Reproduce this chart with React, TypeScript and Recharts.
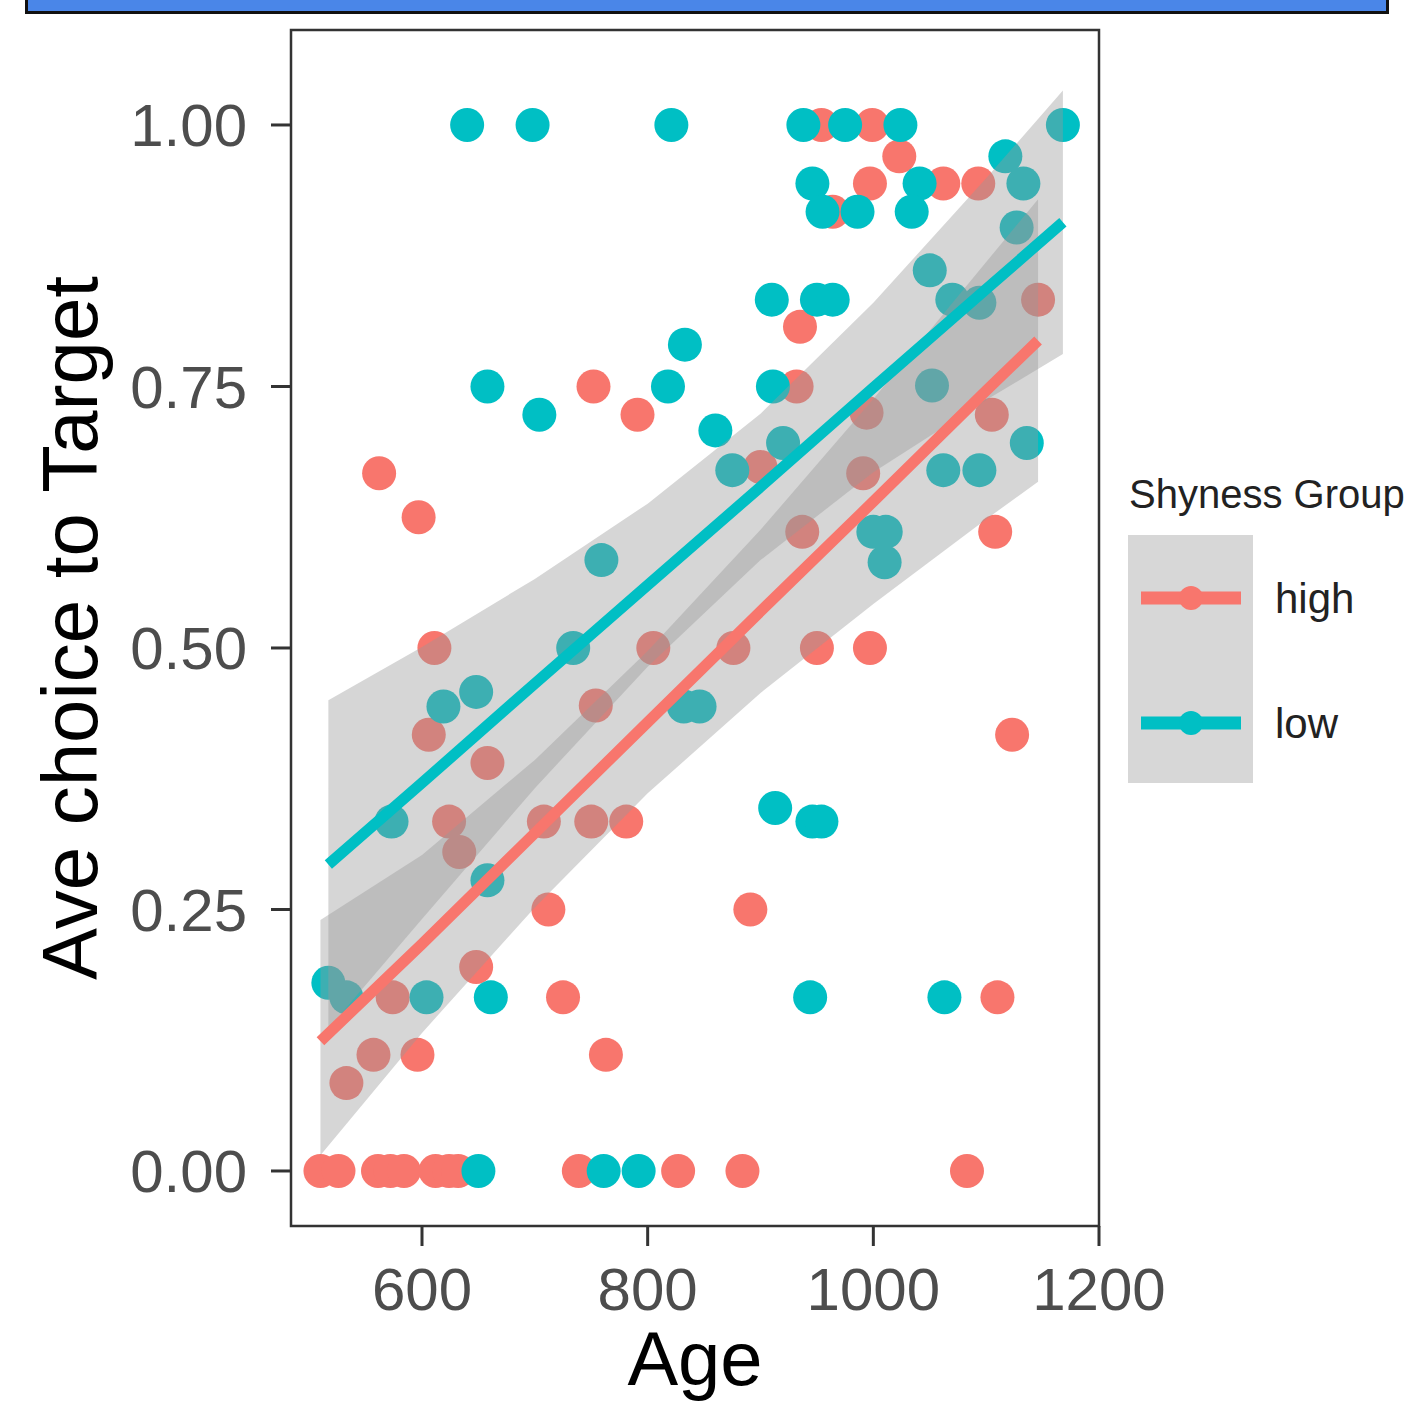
import React from 'react';
import { ComposedChart, Scatter, Line, Area, XAxis, YAxis, ReferenceArea } from 'recharts';

const RED = '#F8766D';
const TEAL = '#00BFC4';
const FONT = '"Liberation Sans", Arial, Helvetica, sans-serif';

// raw points (age in days, mean choice to target)
const highAge = [
  954, 999, 1023, 997, 1062, 1093, 964, 935, 932, 1146, 752, 791, 994, 1105, 562, 900, 991, 597,
  937, 1108, 611, 805, 876, 950, 997, 754, 606, 1123, 658, 624, 633, 708, 750, 781, 712, 891, 648,
  574, 725, 1110, 557, 596, 763, 533, 510, 526, 561, 572, 584, 612, 624, 632, 739, 827, 884, 1083,
];
const highChoice = [
  1.0, 1.0, 0.97, 0.944, 0.944, 0.944, 0.917, 0.807, 0.75, 0.833, 0.75, 0.723, 0.725, 0.723, 0.667,
  0.673, 0.667, 0.625, 0.611, 0.611, 0.5, 0.5, 0.5, 0.5, 0.5, 0.445, 0.417, 0.417, 0.39, 0.334,
  0.305, 0.334, 0.334, 0.334, 0.25, 0.25, 0.195, 0.166, 0.166, 0.166, 0.111, 0.111, 0.111, 0.084, 0,
  0, 0, 0, 0, 0, 0, 0, 0, 0, 0, 0,
];
const lowAge = [
  640, 698, 821, 938, 975, 1024, 1168, 1117, 946, 1041, 1133, 955, 986, 1034, 1127, 1050, 910, 950,
  964, 1070, 1094, 833, 658, 818, 911, 1052, 704, 860, 920, 1136, 875, 1062, 1094, 759, 1000, 1011,
  1010, 734, 648, 619, 832, 846, 913, 573, 946, 954, 658, 517, 533, 604, 661, 944, 1063, 650, 761,
  792,
];
const lowChoice = [
  1.0, 1.0, 1.0, 1.0, 1.0, 1.0, 1.0, 0.97, 0.944, 0.944, 0.944, 0.917, 0.917, 0.917, 0.902, 0.861,
  0.833, 0.833, 0.833, 0.833, 0.83, 0.79, 0.75, 0.75, 0.75, 0.751, 0.723, 0.708, 0.696, 0.696, 0.67,
  0.67, 0.67, 0.584, 0.611, 0.611, 0.582, 0.5, 0.458, 0.444, 0.444, 0.444, 0.347, 0.334, 0.334,
  0.334, 0.278, 0.18, 0.166, 0.166, 0.166, 0.166, 0.166, 0, 0, 0,
];

// fitted lines and their grey bands, read at a few ages
const highFitAge = [510, 600, 700, 800, 900, 1000, 1100, 1146];
const highFit = [0.124, 0.217, 0.323, 0.429, 0.535, 0.64, 0.746, 0.794];
const highLower = [0.015, 0.132, 0.252, 0.361, 0.457, 0.542, 0.623, 0.659];
const highUpper = [0.24, 0.302, 0.393, 0.497, 0.613, 0.738, 0.869, 0.929];

const lowFitAge = [517, 600, 700, 800, 900, 1000, 1100, 1168];
const lowFit = [0.293, 0.371, 0.466, 0.56, 0.654, 0.749, 0.843, 0.907];
const lowLower = [0.136, 0.241, 0.366, 0.482, 0.584, 0.668, 0.737, 0.781];
const lowUpper = [0.45, 0.501, 0.566, 0.638, 0.724, 0.83, 0.949, 1.033];

const xTicks = [600, 800, 1000, 1200];
const yTicks = [0, 0.25, 0.5, 0.75, 1];
const xDomain: [number, number] = [483.9, 1200];
const yDomain: [number, number] = [-0.0526, 1.0908];

const highPoints = highAge.map((age, i) => ({ age, choice: highChoice[i] }));
const lowPoints = lowAge.map((age, i) => ({ age, choice: lowChoice[i] }));
const highSmooth = highFitAge.map((age, i) => ({
  age,
  fit: highFit[i],
  band: [highLower[i], highUpper[i]],
}));
const lowSmooth = lowFitAge.map((age, i) => ({
  age,
  fit: lowFit[i],
  band: [lowLower[i], lowUpper[i]],
}));

const dot = (color: string) => (p: any) => <circle cx={p.cx} cy={p.cy} r={17} fill={color} />;

const XTitle = ({ viewBox }: any) => (
  <text
    x={viewBox.x + viewBox.width / 2}
    y={viewBox.y + 159}
    textAnchor="middle"
    fontSize={76}
    fontFamily={FONT}
    fill="#000"
  >
    Age
  </text>
);

const YTitle = ({ viewBox }: any) => {
  const cx = 97;
  const cy = viewBox.y + viewBox.height / 2;
  return (
    <text
      x={cx}
      y={cy}
      transform={`rotate(-90 ${cx} ${cy})`}
      textAnchor="middle"
      fontSize={78}
      fontFamily={FONT}
      fill="#000"
    >
      Ave choice to Target
    </text>
  );
};

const ShynessLegend = () => (
  <svg
    width={304}
    height={340}
    style={{ position: 'absolute', left: 1100, top: 460 }}
  >
    <text x={29} y={48} fontSize={40} fontFamily={FONT} fill="#222">
      Shyness Group
    </text>
    <rect x={28} y={75} width={125} height={124} fill="#d7d7d7" />
    <rect x={28} y={199} width={125} height={124} fill="#d7d7d7" />
    {[
      { label: 'high', color: RED, y: 138 },
      { label: 'low', color: TEAL, y: 263 },
    ].map((k) => (
      <g key={k.label}>
        <line x1={41} x2={141} y1={k.y} y2={k.y} stroke={k.color} strokeWidth={13} />
        <circle cx={91} cy={k.y} r={12} fill={k.color} />
        <text x={175} y={k.y + 15} fontSize={42} fontFamily={FONT} fill="#222">
          {k.label}
        </text>
      </g>
    ))}
  </svg>
);

export default function App() {
  return (
    <div
      style={{
        position: 'absolute',
        left: 0,
        top: 0,
        width: 1404,
        height: 1402,
        overflow: 'hidden',
        background: '#fff',
      }}
    >
      <div
        style={{
          position: 'absolute',
          left: 25,
          top: -20,
          width: 1364,
          height: 34,
          boxSizing: 'border-box',
          background: '#4a86e8',
          border: '3px solid #111',
        }}
      />
      <div style={{ position: 'absolute', left: 0, top: 0 }}>
        <ComposedChart
          width={1404}
          height={1402}
          margin={{ top: 30, right: 305, bottom: 0, left: 0 }}
        >
          <XAxis
            type="number"
            dataKey="age"
            domain={xDomain}
            allowDataOverflow
            ticks={xTicks}
            interval={0}
            height={176}
            tickSize={20}
            tickMargin={21}
            tick={{ fill: '#4d4d4d', fontSize: 60, fontFamily: FONT }}
            tickLine={{ stroke: '#333', strokeWidth: 3 }}
            axisLine={false}
            label={<XTitle />}
          />
          <YAxis
            type="number"
            domain={yDomain}
            allowDataOverflow
            ticks={yTicks}
            interval={0}
            width={291}
            tickSize={20}
            tickMargin={24}
            tickFormatter={(v: number) => v.toFixed(2)}
            tick={{ fill: '#4d4d4d', fontSize: 60, fontFamily: FONT }}
            tickLine={{ stroke: '#333', strokeWidth: 3 }}
            axisLine={false}
            label={<YTitle />}
          />
          <Scatter
            data={highPoints}
            dataKey="choice"
            shape={dot(RED)}
            zIndex={50}
            isAnimationActive={false}
          />
          <Scatter
            data={lowPoints}
            dataKey="choice"
            shape={dot(TEAL)}
            zIndex={50}
            isAnimationActive={false}
          />
          <Area
            data={highSmooth}
            dataKey="band"
            type="linear"
            stroke="none"
            fill="#999999"
            fillOpacity={0.4}
            zIndex={100}
            isAnimationActive={false}
          />
          <Area
            data={lowSmooth}
            dataKey="band"
            type="linear"
            stroke="none"
            fill="#999999"
            fillOpacity={0.4}
            zIndex={100}
            isAnimationActive={false}
          />
          <Line
            data={highSmooth}
            dataKey="fit"
            type="linear"
            stroke={RED}
            strokeWidth={11}
            dot={false}
            zIndex={400}
            isAnimationActive={false}
          />
          <Line
            data={lowSmooth}
            dataKey="fit"
            type="linear"
            stroke={TEAL}
            strokeWidth={11}
            dot={false}
            zIndex={400}
            isAnimationActive={false}
          />
          <ReferenceArea
            x1={xDomain[0]}
            x2={xDomain[1]}
            y1={yDomain[0]}
            y2={yDomain[1]}
            fill="none"
            stroke="#333"
            strokeWidth={2.5}
            ifOverflow="visible"
          />
        </ComposedChart>
      </div>
      <ShynessLegend />
    </div>
  );
}
